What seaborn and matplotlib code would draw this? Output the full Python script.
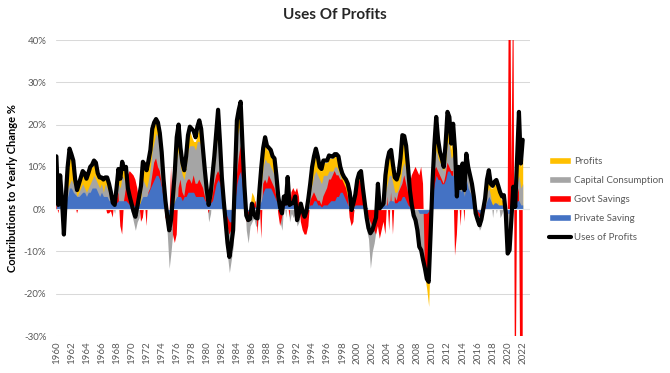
import pandas as pd
import matplotlib
matplotlib.use("Agg")
import matplotlib.pyplot as plt
from matplotlib.patches import Patch
from matplotlib.lines import Line2D
import seaborn as sns

# Quarterly contributions to yearly change (%), 1960Q1 - 2022Q1
quarters = pd.period_range("1960Q1", "2022Q1", freq="Q")

uses_of_profits = [
    12.5, 1.0, 8.0, 2.0,  # 1960
    -6.0, 3.0, 10.0, 14.3,
    13.0, 11.5, 7.0, 4.5,
    6.0, 7.5, 9.0, 8.5,
    7.2, 8.5, 10.0, 10.5,
    11.5, 11.0, 8.5, 7.5,
    7.5, 7.0, 7.5, 7.5,
    6.0, 4.0, 1.5, 1.0,
    5.0, 9.5, 7.2, 11.2,
    9.5, 10.0, 5.0, 3.0,
    1.3, -0.5, -1.8, 0.5,  # 1970
    3.0, 5.5, 11.2, 10.5,
    9.2, 11.5, 14.0, 19.0,
    20.5, 21.3, 20.5, 18.0,
    13.5, 7.0, 2.0, -1.8,
    -5.0, -2.5, 3.0, 9.0,
    17.0, 20.0, 14.5, 11.0,
    9.2, 12.5, 17.5, 19.5,
    19.0, 18.5, 17.0, 19.5,
    21.0, 19.0, 14.0, 9.0,
    4.5, 1.0, 3.5, 8.0,  # 1980
    12.5, 18.0, 23.5, 16.0,
    7.5, 2.0, -3.0, -8.0,
    -11.3, -8.5, -5.0, 8.0,
    21.0, 23.5, 25.4, 15.0,
    5.5, -1.5, -2.6, -2.3,
    1.3, -1.0, -2.0, -2.2,
    4.5, 10.0, 14.5, 17.0,
    15.0, 14.5, 14.0, 12.5,
    12.0, 8.0, 3.0, 0.3,
    -1.0, 3.0, 1.3, 7.6,  # 1990
    1.0, 1.3, 1.5, 3.0,
    -2.6, -1.0, 1.3, -0.5,
    -1.8, -0.5, 2.5, 6.0,
    10.0, 12.5, 14.3, 12.5,
    10.0, 9.5, 11.5, 11.5,
    11.5, 12.7, 12.5, 12.4,
    13.0, 13.0, 12.5, 10.0,
    8.5, 7.6, 7.0, 6.0,
    4.0, -0.2, 1.5, 3.5,
    6.9, 8.5, 9.0, 5.0,  # 2000
    1.5, -2.0, -4.5, -5.7,
    -5.0, -3.5, -2.0, 6.0,
    0.2, 0.8, 1.3, 8.0,
    11.5, 13.5, 14.0, 10.5,
    7.5, 7.0, 8.5, 12.0,
    17.5, 17.3, 15.0, 10.0,
    4.5, 1.0, -1.5, -2.6,
    -5.0, -8.9, -9.7, -12.0,
    -14.0, -16.5, -17.2, -6.0,
    6.0, 15.0, 21.8, 16.5,  # 2010
    13.5, 12.0, 10.0, 15.5,
    23.0, 21.8, 15.5, 20.2,
    14.0, 3.0, 10.0, 5.0,
    10.8, 4.5, 13.1, 10.0,
    8.0, 6.0, 3.0, -1.0,
    -2.5, -3.8, -2.5, 0.0,
    2.5, 7.0, 9.2, 6.0,
    5.5, 6.5, 6.9, 5.5,
    4.0, 3.0, 3.3, -1.0,
    -10.5, -9.7, -2.0, 5.3,  # 2020
    0.5, 11.6, 23.0, 10.8,
    16.4,
]

profits = [
    12, 2, 7, 2,  # 1960
    -2, 4, 9, 14,
    12.5, 11, 7, 4.5,
    6, 7.5, 9, 8.5,
    7, 8.5, 9.5, 10,
    11, 10.5, 8, 7.5,
    7, 7, 7, 7,
    5.5, 4, 1.5, 1,
    5, 9, 7, 11,
    9.5, 10, 6, 2,
    1, -1, -2, 1,  # 1970
    3, 5, 10.5, 10,
    9, 11, 13, 18,
    20, 21, 20, 17,
    13, 7, 1, -1,
    -4, -2, 2, 8,
    16, 19, 14, 10,
    9, 12, 17, 18.5,
    17, 16, 16, 18,
    19, 17, 13, 8,
    4, 1, 3, 7,  # 1980
    12, 17, 20, 15,
    7, 2, -2, -7,
    -10, -9, -5, 7,
    19, 22, 23, 14,
    5, -1, -2, 1,
    4, 3, 1, -1,
    4, 9, 14, 16,
    14, 14, 13, 12,
    11, 7, 3, 0.5,
    -1, 3, 1, 6,  # 1990
    1, 2, 2, 3,
    -2, -1, 1, -0.5,
    -2, -1, 2, 6,
    10, 12, 13, 12,
    9.5, 9, 11, 11,
    11, 12, 12, 12,
    12.5, 12.5, 12, 10,
    8, 7, 6, 5,
    3, -0.5, 1, 3,
    6, 8, 8, 5,  # 2000
    1, -3, -6, -9,
    -8, -5, -3, 3,
    0, 1, 2, 7,
    11, 13, 13, 10,
    7, 7, 8, 11,
    16, 16, 14, 9,
    4, 0, -2, -4,
    -6, -9, -11, -13,
    -16, -19, -23, -8,
    5, 14, 20, 15,  # 2010
    13, 11, 10, 14,
    21, 20, 14, 19,
    13, 3, 9, 5,
    10, 4, 12, 9,
    7, 5, 3, 0,
    -2, -3, -2, 0.5,
    2, 6, 8, 5,
    5, 6, 6, 5,
    3, 2, 3, -1,
    -8, -6, -1, 4,  # 2020
    2, 10, 15, 10,
    12,
]

capital_consumption = [
    6, 2, 5, 1,  # 1960
    -1, 3, 5, 6,
    7, 6, 5, 3,
    4, 5, 6, 5,
    4, 5, 6, 7,
    8, 7, 6, 5,
    6, 4, 6, 5,
    4, 2, 0.5, -1,
    3, 6, 5, 8,
    7, 6, 4, 2,
    -1, -3, -5, -3,  # 1970
    -2, 3, 7, 6,
    5, 7, 10, 14,
    16, 18, 17, 15,
    10, 5, -1, -6,
    -14, -10, -5, 5,
    12, 14, 10, 8,
    7, 10, 14, 15,
    15, 15, 14, 16,
    16, 15, 11, 6,
    2, -3, -1, 5,  # 1980
    10, 15, 18, 12,
    5, -1, -6, -11,
    -15, -12, -9, 5,
    17, 19, 20, 12,
    3, -5, -8, -4,
    -3, -2, -4, -4,
    2, 6, 10, 12,
    11, 11, 10, 9,
    8, 4, 1, -3,
    -5, 2, -2, 4,  # 1990
    -3, -1, -2, -1,
    -4, -3, -1, -3,
    -4, -3, 1, 4,
    6, 8, 9, 8,
    7, 6, 8, 8,
    8, 9, 9, 9,
    10, 10, 9, 8,
    6, 5, 4, 3,
    2, -3, -1, 2,
    4, 5, 6, 3,  # 2000
    -1, -5, -7, -14,
    -10, -8, -5, 2,
    -2, -1, 1, 4,
    6, 8, 8, 6,
    4, 4, 5, 7,
    10, 11, 9, 5,
    2, -1, -3, -4,
    -5, -8, -9, -11,
    -12, -13, -12, -5,
    4, 11, 14, 12,  # 2010
    11, 10, 9, 11,
    16, 15, 12, 13,
    10, 2, 8, 4,
    8, 3, 10, 8,
    6, 4, 2, -1,
    -3, -5, -4, -1,
    1, 4, 5, 3,
    -2, 2, -1, 2,
    -2, -1, 1, -3,
    -11, -8, -3, 3,  # 2020
    -1, 6, 8, 5,
    6,
]

govt_savings = [
    2, -1, 1, -1,  # 1960
    -1.5, 0.5, 1, 3,
    2, 2, 1, -1,
    0.5, 1, 2, 1,
    3, 2, 1, 2,
    2, 3, 1, 2,
    1, 3, 1, -1,
    -1, -0.5, -2, 3,
    2, 4, -4, -6,
    2, 5, 8, 9,
    8.5, 8, 7, 5,  # 1970
    2, -3, -2, 2,
    -4, 4, 5, 8,
    11, 12, 10, 9,
    6, 3, -2, -3,
    -4, 10, -6, -8,
    -6, 5, 7, 4,
    3, 6, 7, 7,
    6, 8, 6, 6,
    7, 6, 5, 3,
    1, -1, 1, 3,  # 1980
    6, 8, 9, 8,
    3, -2, -3, -4,
    -6, -5, -4, 3,
    8, 12, 15, 8,
    2, -3, -2, -1,
    -1, 1, 2, -6,
    3, -7, 6, 7,
    6, 8, 7, 6,
    5, 3, -1, -4,
    -2, 1, 2, 2,  # 1990
    -2, 4, 5, 4,
    5, 3, -3, -5,
    -6, -6, -4, 2,
    3, 4, 3, 2,
    2, 1, 3, 4,
    5, 7, 7, 8,
    9, 8, 8, 7,
    7, 6, 5, 3,
    -2, -4, -3, 3,
    5, 7, 6, 4,  # 2000
    2, -1, -2, -3,
    -4, -5, -6, -4,
    -7, -5, -3, -6,
    3, -5, 4, -6,
    3, 2, 4, 5,
    6, 8, 6, 4,
    6, 8, 9, 10,
    9, 8, 10, 6,
    -14, -16, -15, -4,
    8, 9, 10, 9,  # 2010
    8, 7, 6, 8,
    11, 10, 9, 9,
    -11, -6, 4, -4,
    5, -3, 6, 3,
    2, 1, 0.5, -0.5,
    -1, -2, -1, -0.5,
    0.5, 1, 1, 0.5,
    0.5, 0.5, 0.5, 0.5,
    0.5, 0.5, 0.5, -1,
    -2, 90, 8, 60,  # 2020
    -60, 3, 5, -60,
    -45,
]

private_saving = [
    4, 1, 3, 1,  # 1960
    0.5, 2, 3, 5,
    5, 4, 3.5, 3,
    3, 3.5, 4, 4,
    3, 4, 4, 5,
    5, 5, 4, 3,
    4, 3, 3, 3,
    2, 2, 1, 1,
    1.5, 2, 2, 2,
    2, 2, 1.5, 1,
    1, 1, 0.5, 0.5,  # 1970
    1, 2, 3, 3,
    3, 4, 5, 6,
    7, 8, 8, 7,
    5, 2, 0.5, -1,
    -2, -1, 1, 2,
    3, 3, 3, 2,
    3, 3, 4, 4,
    4, 4, 3, 3,
    3, 3, 3, 2,
    1.5, 1, 1.5, 2,  # 1980
    4, 6, 7, 6,
    3, 1, -1, -2,
    -3, -3, -2, 2,
    6, 8, 9, 5,
    1, -0.5, -0.5, 0.5,
    0.5, 0.5, 0.5, 0.5,
    1, 2, 4, 5,
    5, 5, 5, 4,
    3, 2, 1, 0.5,
    0.5, 1, 1, 2,  # 1990
    1, 1.5, 1, 1,
    0.5, 0.5, 0.5, 0,
    0, 0, 0.5, 1,
    1, 2, 2, 1,
    1, 0.5, 1, 1,
    1, 1.5, 2, 2,
    2, 3, 3, 4,
    4, 3, 2, 1,
    0.5, -0.5, 0.5, 1,
    1, 1, 1, 1,  # 2000
    0.5, 0.5, 0, 0,
    0, 0, 0, 0.5,
    0.5, 0.5, 1, 1,
    1, 2, 2, 2,
    1.5, 1.5, 2, 2,
    3, 3, 2, 1,
    0.5, 0.5, 0, 0,
    0, -1, -1, -1,
    -1, -1, -0.5, 0.5,
    3, 6, 8, 7,  # 2010
    7, 6, 6, 7,
    9, 9, 8, 8,
    7, 3, 6, 4,
    6, 3, 7, 5,
    4, 3, 2, 0.5,
    -0.5, -1, -1, -0.5,
    0.5, 2, 3, 2,
    1, 1.5, 1.5, 1,
    1, 1, 1, 0.5,
    -1, -1, 0.5, 1,  # 2020
    0.5, 2, 2, 1,
    1,
]

df = pd.DataFrame({
    "Profits": profits,
    "Capital Consumption": capital_consumption,
    "Govt Savings": govt_savings,
    "Private Saving": private_saving,
    "Uses of Profits": uses_of_profits,
})
df["year"] = quarters.year + (quarters.quarter - 1) / 4

# Excel-style overlapping areas: first series sits at the back
area_colors = {
    "Profits": "#FFC000",
    "Capital Consumption": "#A5A5A5",
    "Govt Savings": "#FF0000",
    "Private Saving": "#4472C4",
}

sns.set_style("white")
plt.rcParams["font.family"] = ["Lato", "DejaVu Sans"]

fig = plt.figure(figsize=(6.7, 3.73), dpi=100)
ax = fig.add_axes([56 / 670, 1 - 336 / 373, (530 - 56) / 670, (336 - 40) / 373])

for name, col in area_colors.items():
    ax.fill_between(df["year"], 0, df[name], color=col, lw=0, zorder=2)
ax.axhline(0, color="#e6e6e6", lw=0.8, zorder=3)
sns.lineplot(data=df, x="year", y="Uses of Profits", color="black", lw=3,
             ax=ax, zorder=4, legend=False)

ax.set_xlim(1959.95, 2022.97)
ax.set_ylim(-30, 40)
ax.set_yticks(range(-30, 41, 10))
ax.set_yticklabels([f"{v}%" for v in range(-30, 41, 10)])
ax.set_xticks(range(1960, 2023, 2))
ax.set_xticklabels([str(y) for y in range(1960, 2023, 2)], rotation=90)
ax.tick_params(axis="both", length=0, labelsize=7, colors="#595959")
ax.tick_params(axis="y", pad=7)
ax.tick_params(axis="x", pad=4)
ax.yaxis.grid(True, color="#d9d9d9", lw=0.75)
ax.set_axisbelow(True)
for s in ax.spines.values():
    s.set_visible(False)

ax.set_xlabel("")
ax.set_ylabel("Contributions to Yearly Change %", fontsize=8, fontweight="bold", color="black")
ax.yaxis.set_label_coords((18 - 56) / 474, 0.5)

fig.text(0.5, 1 - 15 / 373, "Uses Of Profits", ha="center", va="center",
         fontsize=11, fontweight="bold")

handles = [Patch(facecolor=c, label=n) for n, c in area_colors.items()]
handles.append(Line2D([], [], color="black", lw=3, label="Uses of Profits"))
fig.legend(handles=handles, loc="center left", bbox_to_anchor=(545 / 670, 1 - 199.5 / 373),
           frameon=False, fontsize=7, handlelength=2.3, handletextpad=0.3,
           labelspacing=1.05, borderaxespad=0, labelcolor="#595959")

fig.savefig("out.png", dpi=100)
